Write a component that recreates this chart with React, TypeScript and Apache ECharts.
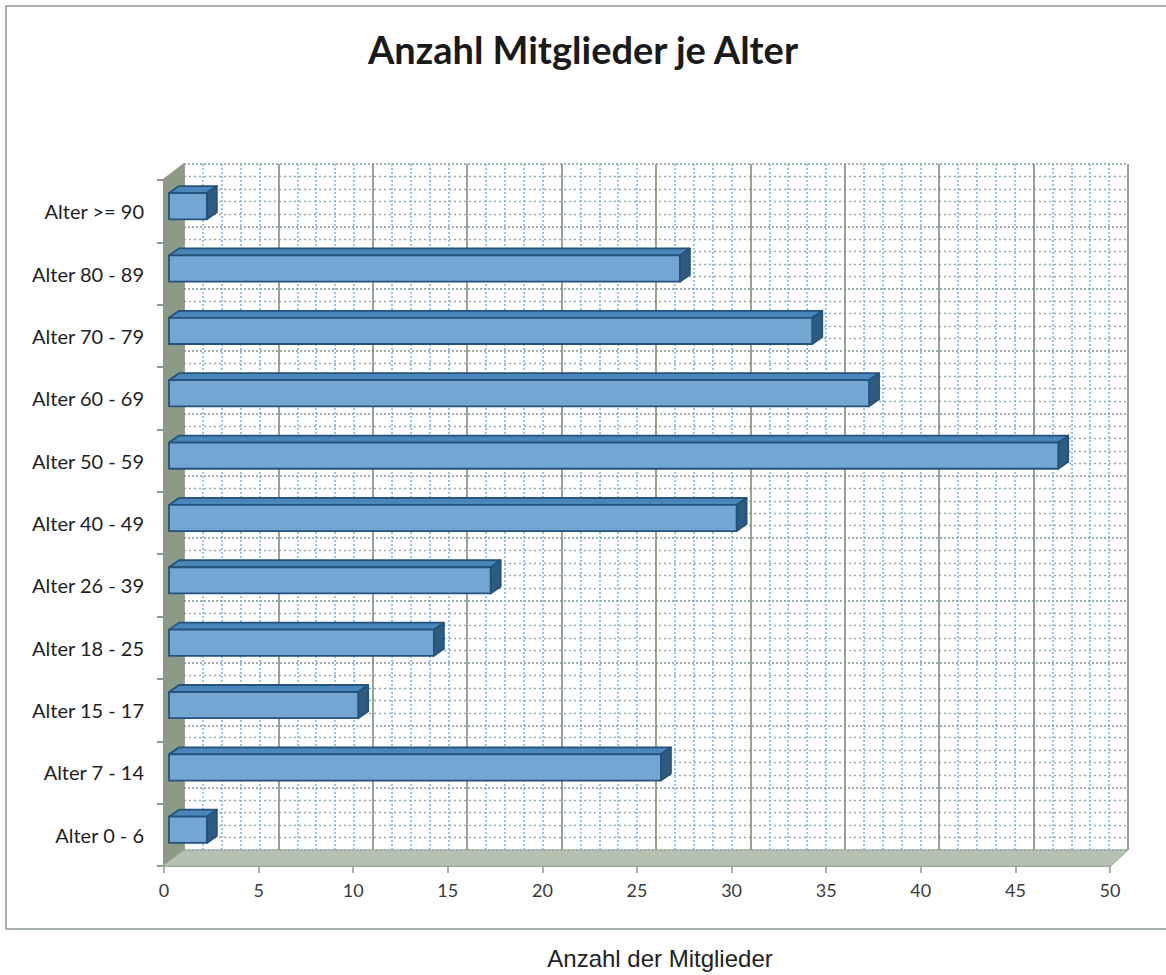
import React, { useEffect, useRef } from "react";
import * as echarts from "echarts";

const categories = [
  "Alter 0 - 6",
  "Alter 7 - 14",
  "Alter 15 - 17",
  "Alter 18 - 25",
  "Alter 26 - 39",
  "Alter 40 - 49",
  "Alter 50 - 59",
  "Alter 60 - 69",
  "Alter 70 - 79",
  "Alter 80 - 89",
  "Alter >= 90",
];
const members = [2, 26, 10, 14, 17, 30, 47, 37, 34, 27, 2];
const xMin = 0;
const xMax = 50;
const xInterval = 5;
const titleText = "Anzahl Mitglieder je Alter";
const xAxisTitle = "Anzahl der Mitglieder";

export default function App() {
  const ref = useRef<HTMLDivElement>(null);
  useEffect(() => {
    if (!ref.current) return;
    const chart = echarts.init(ref.current, null, { renderer: "svg" });
    const outline = "#24527a";
    const option: any = {
      animation: false,
      backgroundColor: "#ffffff",
      title: {
        text: titleText,
        left: "center",
        top: 25,
        textStyle: {
          fontFamily: "Lato",
          fontWeight: "bold",
          fontSize: 38,
          color: "#1a1a1a",
        },
      },
      graphic: [
        {
          type: "rect",
          z: -10,
          shape: { x: 6, y: 6, width: 1180, height: 923 },
          style: { fill: "none", stroke: "#8a9a8c", lineWidth: 1.5 },
        },
        {
          type: "polygon",
          z: 1,
          shape: { points: [[163, 179], [184, 163], [184, 850], [163, 866]] },
          style: { fill: "#8e9a88" },
        },
        {
          type: "polygon",
          z: 1,
          shape: { points: [[163, 866], [184, 850], [1128, 850], [1111, 866]] },
          style: { fill: "#b7c1b3", stroke: "#9aa898", lineWidth: 1 },
        },
        {
          type: "text",
          z: 5,
          x: 660,
          y: 958,
          style: {
            text: xAxisTitle,
            fontFamily: "Liberation Sans",
            fontSize: 24,
            fill: "#222",
            align: "center",
            verticalAlign: "middle",
          },
        },
      ],
      grid: [
        { left: 184, top: 164, width: 944, height: 686 },
        { left: 164, top: 180, width: 946, height: 686 },
      ],
      xAxis: [
        {
          gridIndex: 0,
          type: "value",
          min: xMin,
          max: xMax,
          interval: xInterval,
          axisLine: { show: false },
          axisTick: { show: false },
          axisLabel: { show: false },
          splitLine: { show: true, lineStyle: { color: "#7e8c74", width: 1.6 } },
          minorTick: { show: false, splitNumber: 5 },
          minorSplitLine: { show: true, lineStyle: { color: "#6fb6dc", width: 1.5, type: [2, 2] } },
        },
        {
          gridIndex: 1,
          type: "value",
          min: xMin,
          max: xMax,
          interval: xInterval,
          axisLine: { show: true, lineStyle: { color: "#8a9a86", width: 1.5 } },
          axisTick: { show: true, length: 7, lineStyle: { color: "#8a9a86", width: 1.5 } },
          axisLabel: {
            margin: 15,
            fontFamily: "Lato",
            fontSize: 18,
            color: "#3a3a3a",
          },
          splitLine: { show: false },
        },
      ],
      yAxis: [
        {
          gridIndex: 0,
          type: "value",
          min: 0,
          max: categories.length,
          interval: 1,
          axisLine: { show: false },
          axisTick: { show: false },
          axisLabel: { show: false },
          splitLine: { show: true, lineStyle: { color: "#7f969c", width: 1.5, type: [2, 2] } },
          minorTick: { show: false, splitNumber: 5 },
          minorSplitLine: { show: true, lineStyle: { color: "#95aab0", width: 1.3, type: [2, 3] } },
        },
        {
          gridIndex: 1,
          type: "category",
          data: categories,
          axisLine: { show: false },
          axisTick: { show: true, length: 7, lineStyle: { color: "#6e7a6c", width: 1.5 } },
          axisLabel: {
            margin: 20,
            fontFamily: "Lato",
            fontSize: 20,
            color: "#1e1e1e",
          },
          splitLine: { show: false },
        },
      ],
      series: [
        {
          type: "custom",
          xAxisIndex: 1,
          yAxisIndex: 1,
          z: 5,
          encode: { x: 0, y: 1 },
          data: members.map((v, i) => [v, i]),
          renderItem: (params: any, api: any) => {
            const v = api.value(0);
            const c = api.value(1);
            const p0 = api.coord([0, c]);
            const p1 = api.coord([v, c]);
            const band = api.size([0, 1])[1];
            const h = band * 0.42;
            const sx = 5;
            const lift = 5;
            const dx = 10;
            const dy = 7;
            const x0 = p0[0] + sx;
            const x1 = p1[0] + sx;
            const yTop = p0[1] - lift - h / 2;
            const yBot = yTop + h;
            const st = { stroke: outline, lineWidth: 1.8, lineJoin: "round" };
            return {
              type: "group",
              children: [
                {
                  type: "polygon",
                  shape: { points: [[x0, yTop], [x0 + dx, yTop - dy], [x1 + dx, yTop - dy], [x1, yTop]] },
                  style: { fill: "#4a86b9", ...st },
                },
                {
                  type: "polygon",
                  shape: { points: [[x1, yTop], [x1 + dx, yTop - dy], [x1 + dx, yBot - dy], [x1, yBot]] },
                  style: { fill: "#2d5c80", ...st },
                },
                {
                  type: "rect",
                  shape: { x: x0, y: yTop, width: x1 - x0, height: h },
                  style: { fill: "#74a6d4", ...st },
                },
              ],
            };
          },
        },
      ],
    };
    chart.setOption(option);
    return () => chart.dispose();
  }, []);
  return (
    <div
      ref={ref}
      style={{ position: "fixed", left: 0, top: 0, width: 1166, height: 975 }}
    />
  );
}
